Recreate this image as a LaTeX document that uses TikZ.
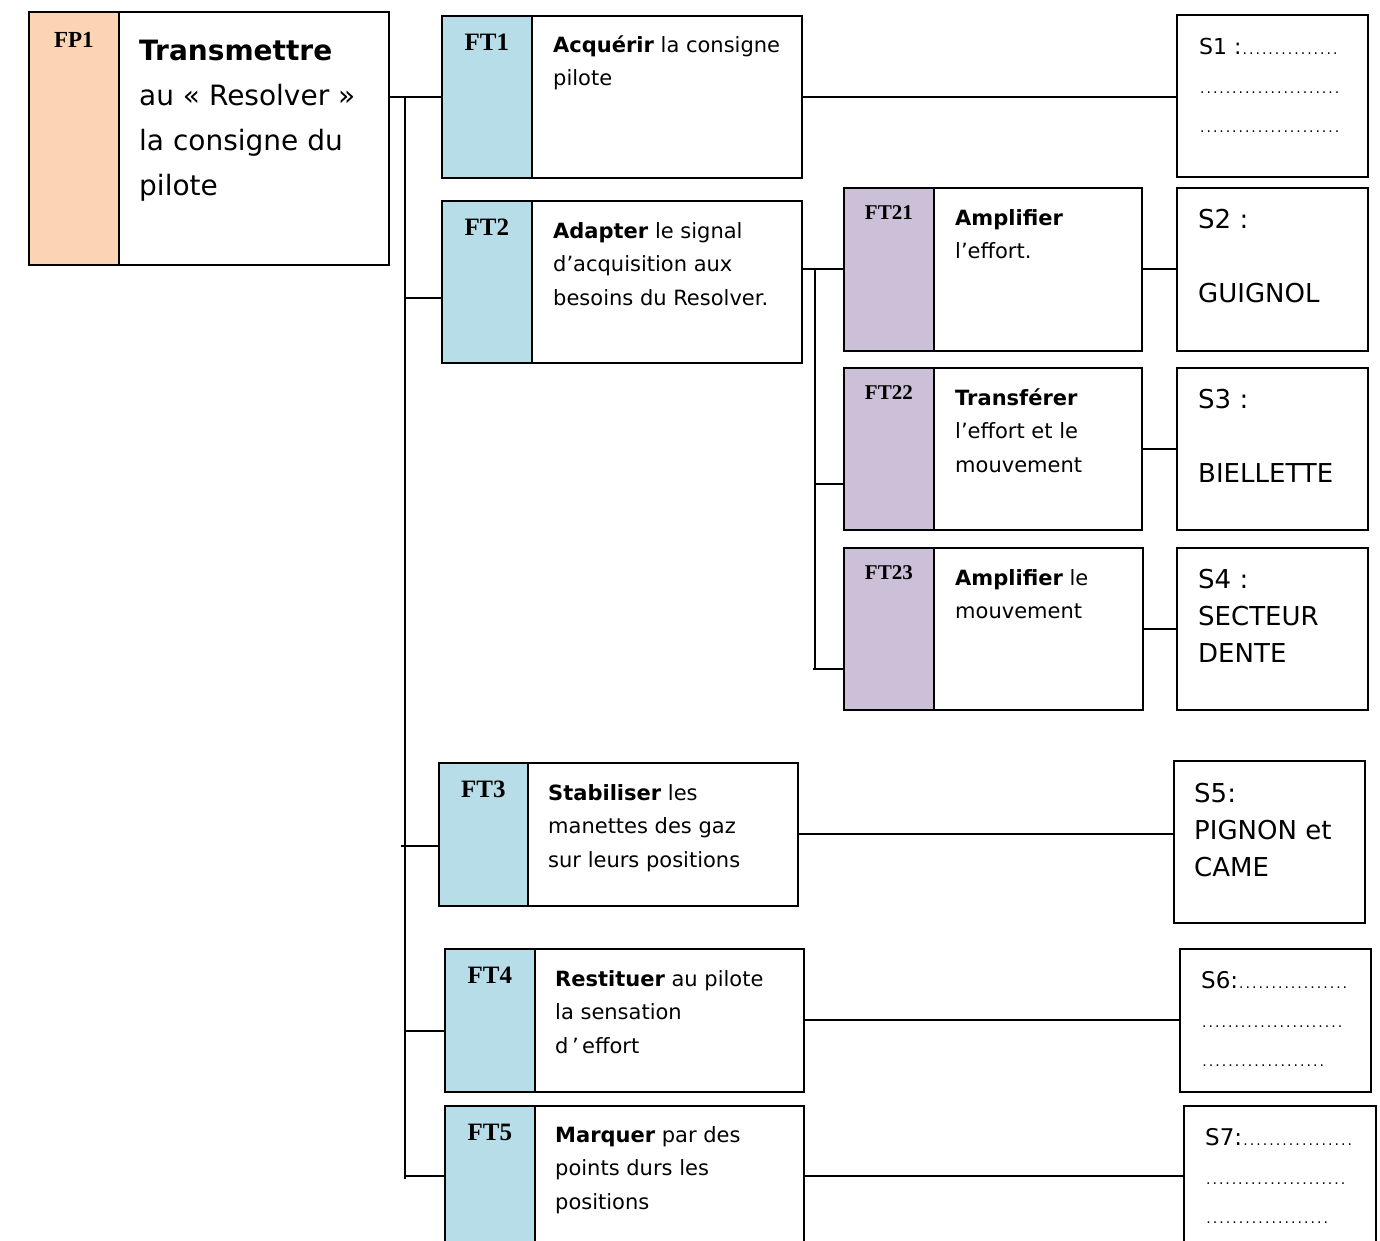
\documentclass[tikz,border=0pt]{standalone}
\usepackage{fontspec}
\setmainfont{DejaVu Sans}
\newfontfamily\tagfont{Liberation Serif}
\definecolor{fporange}{HTML}{FBD4B4}
\definecolor{ftblue}{HTML}{B7DDE8}
\definecolor{ftmauve}{HTML}{CCC0D9}
\newcommand\pointilles[1]{{\fontsize{14}{14}\selectfont\makebox[#1][l]{\xleaders\hbox to 6.4pt{\hss.\hss}\hfill}}}

\begin{document}
\begin{tikzpicture}[x=1pt, y=-1pt,
  box/.style={draw, line width=1.7pt, anchor=north west, inner sep=0pt},
  tag/.style={box, minimum width=90pt},
  tagtxt/.style={anchor=north, inner sep=0pt, font=\tagfont\bfseries\fontsize{25}{25}\selectfont},
  txt/.style={anchor=north west, inner sep=0pt, align=left, font=\fontsize{21}{33.5}\selectfont},
  sol/.style={anchor=north west, inner sep=0pt, align=left, font=\fontsize{26}{37}\selectfont},
  link/.style={line width=1.9pt}]
\useasboundingbox (0,0) rectangle (1380,1240);

% fonction principale
\node[tag, fill=fporange, minimum height=253pt] (fp1t) at (28,11) {};
\node[box, minimum width=270pt, minimum height=253pt] (fp1) at (118,11) {};
\node[tagtxt, font=\tagfont\bfseries\fontsize{23}{23}\selectfont] at ([yshift=-21pt]fp1t.north) {FP1};
\node[txt, font=\fontsize{28}{45}\selectfont] at ([xshift=21pt,yshift=-29pt]fp1.north west)
  {\textbf{Transmettre}\\au « Resolver »\\la consigne du\\pilote};

% fonctions techniques
\node[tag, fill=ftblue, minimum height=162pt] (ft1t) at (441,15) {};
\node[box, minimum width=270pt, minimum height=162pt] (ft1) at (531,15) {};
\node[tagtxt] at ([yshift=-19pt]ft1t.north) {FT1};
\node[txt] at ([xshift=22pt,yshift=-20pt]ft1.north west) {\textbf{Acquérir} la consigne\\pilote};

\node[tag, fill=ftblue, minimum height=162pt] (ft2t) at (441,200) {};
\node[box, minimum width=270pt, minimum height=162pt] (ft2) at (531,200) {};
\node[tagtxt] at ([yshift=-19pt]ft2t.north) {FT2};
\node[txt] at ([xshift=22pt,yshift=-22pt]ft2.north west)
  {\textbf{Adapter} le signal\\d’acquisition aux\\besoins du Resolver.};

\node[tag, fill=ftmauve, minimum height=163pt] (ft21t) at (843,187) {};
\node[box, minimum width=208pt, minimum height=163pt] (ft21) at (933,187) {};
\node[tagtxt, font=\tagfont\bfseries\fontsize{21}{21}\selectfont] at ([yshift=-18pt]ft21t.north) {FT21};
\node[txt] at ([xshift=22pt,yshift=-22pt]ft21.north west) {\textbf{Amplifier}\\l’effort.};

\node[tag, fill=ftmauve, minimum height=162pt] (ft22t) at (843,367) {};
\node[box, minimum width=208pt, minimum height=162pt] (ft22) at (933,367) {};
\node[tagtxt, font=\tagfont\bfseries\fontsize{21}{21}\selectfont] at ([yshift=-18pt]ft22t.north) {FT22};
\node[txt] at ([xshift=22pt,yshift=-21pt]ft22.north west) {\textbf{Transférer}\\l’effort et le\\mouvement};

\node[tag, fill=ftmauve, minimum height=162pt] (ft23t) at (843,547) {};
\node[box, minimum width=209pt, minimum height=162pt] (ft23) at (933,547) {};
\node[tagtxt, font=\tagfont\bfseries\fontsize{21}{21}\selectfont] at ([yshift=-18pt]ft23t.north) {FT23};
\node[txt] at ([xshift=22pt,yshift=-22pt]ft23.north west) {\textbf{Amplifier} le\\mouvement};

\node[tag, fill=ftblue, minimum width=89pt, minimum height=143pt] (ft3t) at (438,762) {};
\node[box, minimum width=270pt, minimum height=143pt] (ft3) at (527,762) {};
\node[tagtxt] at ([yshift=-19pt]ft3t.north) {FT3};
\node[txt] at ([xshift=21pt,yshift=-22pt]ft3.north west)
  {\textbf{Stabiliser} les\\manettes des gaz\\sur leurs positions};

\node[tag, fill=ftblue, minimum height=143pt] (ft4t) at (444,948) {};
\node[box, minimum width=269pt, minimum height=143pt] (ft4) at (534,948) {};
\node[tagtxt] at ([yshift=-19pt]ft4t.north) {FT4};
\node[txt] at ([xshift=21pt,yshift=-22pt]ft4.north west)
  {\textbf{Restituer} au pilote\\la sensation\\d\,’\,effort};

\node[tag, fill=ftblue, minimum height=140pt] (ft5t) at (444,1105) {};
\node[box, minimum width=269pt, minimum height=140pt] (ft5) at (534,1105) {};
\node[tagtxt] at ([yshift=-19pt]ft5t.north) {FT5};
\node[txt] at ([xshift=21pt,yshift=-21pt]ft5.north west)
  {\textbf{Marquer} par des\\points durs les\\positions};

% solutions
\node[box, minimum width=191pt, minimum height=162pt] (s1) at (1176,14) {};
\node[sol, font=\fontsize{22}{39}\selectfont] at ([xshift=23pt,yshift=-24pt]s1.north west)
  {S1 :\pointilles{97pt}\\\pointilles{141pt}\\\pointilles{141pt}};
\node[box, minimum width=191pt, minimum height=163pt] (s2) at (1176,187) {};
\node[sol] at ([xshift=22pt,yshift=-22pt]s2.north west) {S2 :\\[37pt]GUIGNOL};
\node[box, minimum width=191pt, minimum height=162pt] (s3) at (1176,367) {};
\node[sol] at ([xshift=22pt,yshift=-22pt]s3.north west) {S3 :\\[37pt]BIELLETTE};
\node[box, minimum width=191pt, minimum height=162pt] (s4) at (1176,547) {};
\node[sol] at ([xshift=22pt,yshift=-22pt]s4.north west) {S4 :\\SECTEUR\\DENTE};
\node[box, minimum width=191pt, minimum height=162pt] (s5) at (1173,760) {};
\node[sol] at ([xshift=21pt,yshift=-23pt]s5.north west) {S5:\\PIGNON et\\CAME};
\node[box, minimum width=191pt, minimum height=143pt] (s6) at (1179,948) {};
\node[sol, font=\fontsize{23}{39}\selectfont] at ([xshift=22pt,yshift=-23pt]s6.north west)
  {S6:\pointilles{110pt}\\\pointilles{142pt}\\\pointilles{124pt}};
\node[box, minimum width=192pt, minimum height=140pt] (s7) at (1183,1105) {};
\node[sol, font=\fontsize{23}{39}\selectfont] at ([xshift=22pt,yshift=-23pt]s7.north west)
  {S7:\pointilles{111pt}\\\pointilles{141pt}\\\pointilles{124pt}};

% liaisons
\coordinate (tronc) at (405,97);
\coordinate (troncbas) at (405,1179);
\draw[link] (fp1.east |- ft1t.west) -- (ft1t.west);
\draw[link] (tronc) -- (troncbas);
\draw[link] ([yshift=-16pt]ft2t.west) -| (tronc);
\draw[link] ([yshift=-11.5pt]ft3t.west) -- ++(-37,0);
\draw[link] ([yshift=-10.5pt]ft4t.west) -| (tronc);
\draw[link] (ft5t.west) -| (tronc);

\coordinate (stronc) at (815,268.5);
\coordinate (stroncbas) at (815,668);
\draw[link] (ft2.east |- ft21t.west) -- (ft21t.west);
\draw[link] (stronc) -- (stroncbas);
\draw[link] ([yshift=-35pt]ft22t.west) -| (stronc);
\draw[link] ([yshift=-40pt]ft23t.west) -- ++(-30,0);

\draw[link] (ft1.east) -- (ft1.east -| s1.west);
\draw[link] (ft21.east) -- (s2.west);
\draw[link] (ft22.east) -- (s3.west);
\draw[link] (ft23.east) -- (s4.west);
\draw[link] (ft3.east) -- (ft3.east -| s5.west);
\draw[link] (ft4.east) -- (ft4.east -| s6.west);
\draw[link] (ft5.east) -- (ft5.east -| s7.west);

\end{tikzpicture}
\end{document}
